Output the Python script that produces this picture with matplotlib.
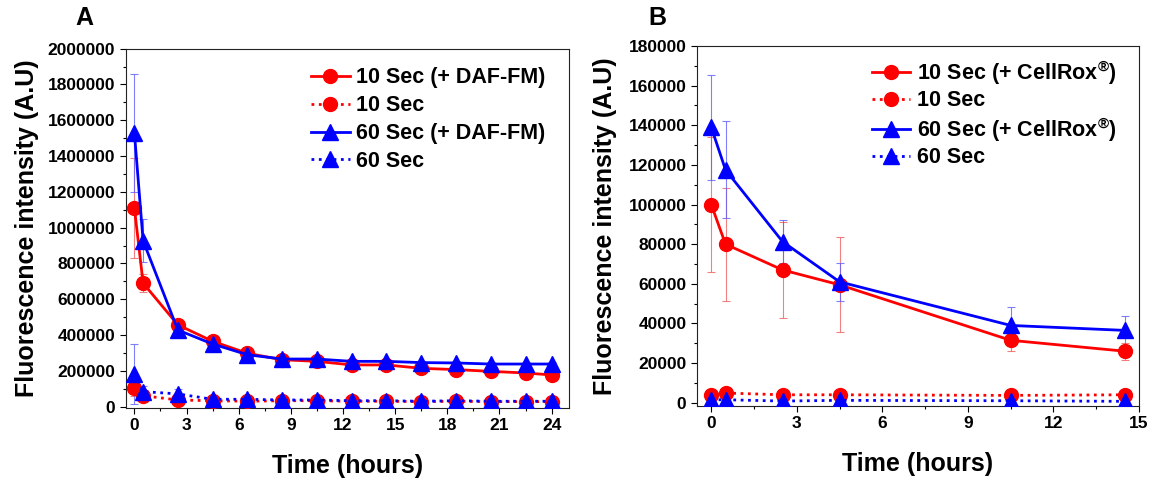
import matplotlib
matplotlib.use("Agg")
import matplotlib.pyplot as plt
from matplotlib.ticker import MultipleLocator

plt.rcParams['font.family'] = ['Liberation Sans', 'DejaVu Sans']
plt.rcParams['font.weight'] = 'bold'
plt.rcParams['mathtext.default'] = 'regular'

# ---------------- Panel A data ----------------
tA = [0, 0.5, 2.5, 4.5, 6.5, 8.5, 10.5, 12.5, 14.5, 16.5, 18.5, 20.5, 22.5, 24]
a_red_daf = [1110000, 690000, 457000, 365000, 298000, 262000, 253000, 233000, 233000, 214000, 207000, 197000, 188000, 177000]
a_red_daf_err = [280000, 50000, 20000, 15000, 15000, 12000, 12000, 10000, 10000, 10000, 10000, 10000, 10000, 10000]
a_red_ctl = [102000, 61000, 37000, 33000, 30000, 33000, 33000, 30000, 30000, 28000, 30000, 28000, 28000, 28000]
a_red_ctl_err = [40000, 20000, 15000, 10000, 10000, 10000, 10000, 8000, 8000, 8000, 8000, 8000, 8000, 8000]
a_blue_daf = [1531000, 927000, 428000, 350000, 290000, 266000, 266000, 253000, 253000, 246000, 244000, 238000, 238000, 238000]
a_blue_daf_err = [330000, 120000, 30000, 30000, 20000, 15000, 15000, 12000, 12000, 10000, 10000, 10000, 10000, 10000]
a_blue_ctl = [182000, 84000, 71000, 41000, 41000, 37000, 37000, 33000, 33000, 30000, 33000, 30000, 30000, 30000]
a_blue_ctl_err = [170000, 30000, 30000, 20000, 15000, 10000, 10000, 8000, 8000, 8000, 8000, 8000, 8000, 8000]
labels_A = ['10 Sec (+ DAF-FM)', '10 Sec', '60 Sec (+ DAF-FM)', '60 Sec']

# ---------------- Panel B data ----------------
tB = [0, 0.5, 2.5, 4.5, 10.5, 14.5]
b_red_cr = [100000, 80000, 67000, 59500, 31500, 26000]
b_red_cr_err = [34000, 28500, 24000, 24000, 5500, 4200]
b_red_ctl = [4000, 4900, 4000, 4000, 3700, 4000]
b_red_ctl_err = [500, 500, 500, 500, 500, 500]
b_blue_cr = [139000, 117500, 81300, 61000, 39000, 36500]
b_blue_cr_err = [26500, 24500, 11000, 9600, 9500, 7200]
b_blue_ctl = [1500, 1500, 850, 1200, 1000, 700]
b_blue_ctl_err = [400, 400, 400, 400, 400, 400]
labels_B = ['10 Sec (+ CellRox$^{®}$)', '10 Sec', '60 Sec (+ CellRox$^{®}$)', '60 Sec']

RED = '#ff0000'
BLUE = '#0000ff'
RED_E = '#f06060'
BLUE_E = '#6060ff'

W, H = 1154, 478
fig = plt.figure(figsize=(W / 100, H / 100), dpi=100)

axA = fig.add_axes([125.7 / W, 1 - 407.7 / H, 443.3 / W, 359 / H])
axB = fig.add_axes([697 / W, 1 - 405.7 / H, 442 / W, 359.7 / H])


def draw(ax, t, series, labels):
    handles = []
    for (y, e, color, ecolor, ls, mk, ms), lab in zip(series, labels):
        ax.errorbar(t, y, yerr=e, fmt='none', ecolor=ecolor, elinewidth=0.8,
                    capsize=3, capthick=0.8, alpha=0.8, zorder=2)
        h, = ax.plot(t, y, color=color, ls=ls, lw=2.0, marker=mk, ms=ms,
                     markeredgecolor=color, markerfacecolor=color, zorder=3,
                     label=lab)
        handles.append(h)
    return handles


serA = [
    (a_red_daf, a_red_daf_err, RED, RED_E, '-', 'o', 10),
    (a_red_ctl, a_red_ctl_err, RED, RED_E, ':', 'o', 10),
    (a_blue_daf, a_blue_daf_err, BLUE, BLUE_E, '-', '^', 11),
    (a_blue_ctl, a_blue_ctl_err, BLUE, BLUE_E, ':', '^', 11),
]
serB = [
    (b_red_cr, b_red_cr_err, RED, RED_E, '-', 'o', 10),
    (b_red_ctl, b_red_ctl_err, RED, RED_E, ':', 'o', 10),
    (b_blue_cr, b_blue_cr_err, BLUE, BLUE_E, '-', '^', 11),
    (b_blue_ctl, b_blue_ctl_err, BLUE, BLUE_E, ':', '^', 11),
]

hA = draw(axA, tA, serA, labels_A)
hB = draw(axB, tB, serB, labels_B)

axA.set_xlim(-0.5, 25)
axA.set_ylim(-6000, 2000000)
axA.xaxis.set_major_locator(MultipleLocator(3))
axA.xaxis.set_minor_locator(MultipleLocator(1.5))
axA.yaxis.set_major_locator(MultipleLocator(200000))
axA.yaxis.set_minor_locator(MultipleLocator(100000))

axB.set_xlim(-0.5, 15)
axB.set_ylim(-1500, 180000)
axB.xaxis.set_major_locator(MultipleLocator(3))
axB.xaxis.set_minor_locator(MultipleLocator(1.5))
axB.yaxis.set_major_locator(MultipleLocator(20000))
axB.yaxis.set_minor_locator(MultipleLocator(10000))

for ax, lp in ((axA, 6), (axB, 8)):
    ax.ticklabel_format(style='plain', axis='y', useOffset=False)
    ax.tick_params(which='major', direction='out', length=4.6, width=0.8,
                   labelsize=12.5, pad=3)
    ax.tick_params(which='minor', direction='out', length=2.3, width=0.8)
    for s in ax.spines.values():
        s.set_linewidth(0.8)
        s.set_color('#222222')
    for lbl in ax.get_xticklabels() + ax.get_yticklabels():
        lbl.set_fontweight('bold')
    ax.set_xlabel('Time (hours)', fontsize=18, fontweight='bold', labelpad=15)
    ax.set_ylabel('Fluorescence intensity (A.U)', fontsize=18, fontweight='bold', labelpad=lp)

legkw = dict(frameon=False, loc='upper left', borderpad=0,
             borderaxespad=0, handlelength=1.8, handletextpad=0.3,
             numpoints=1, prop={'weight': 'bold', 'size': 15.5})
axA.legend(handles=hA, bbox_to_anchor=(0.418, 0.948), labelspacing=0.32, **legkw)
axB.legend(handles=hB, bbox_to_anchor=(0.395, 0.966), labelspacing=0.17, **legkw)

fig.text(84 / W, 1 - 18 / H, 'A', fontsize=18, fontweight='bold', ha='center', va='center')
fig.text(657 / W, 1 - 18 / H, 'B', fontsize=18, fontweight='bold', ha='center', va='center')

fig.savefig('out.png', dpi=100)
